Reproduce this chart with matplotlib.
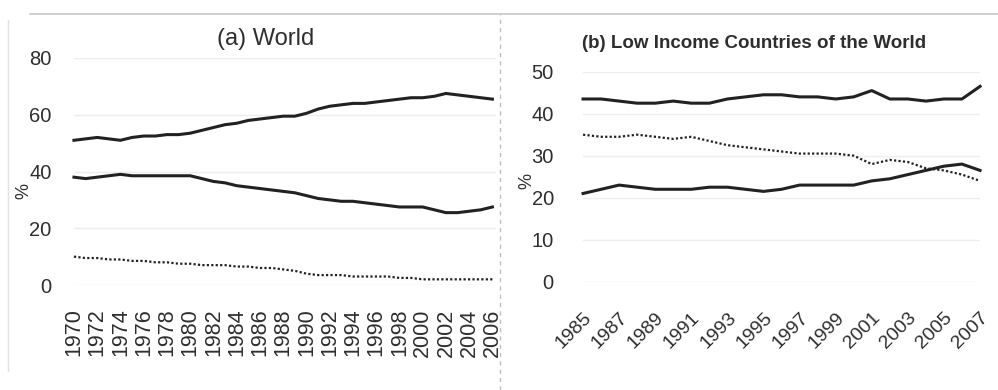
import matplotlib
matplotlib.use("Agg")
import matplotlib.pyplot as plt
from matplotlib.lines import Line2D

# (a) World, 1970-2006
years_a = list(range(1970, 2007))
upper_a = [51, 51.5, 52, 51.5, 51, 52, 52.5, 52.5, 53, 53, 53.5,
           54.5, 55.5, 56.5, 57, 58, 58.5, 59, 59.5, 59.5, 60.5,
           62, 63, 63.5, 64, 64, 64.5, 65, 65.5, 66, 66,
           66.5, 67.5, 67, 66.5, 66, 65.5]
middle_a = [38, 37.5, 38, 38.5, 39, 38.5, 38.5, 38.5, 38.5, 38.5, 38.5,
            37.5, 36.5, 36, 35, 34.5, 34, 33.5, 33, 32.5, 31.5,
            30.5, 30, 29.5, 29.5, 29, 28.5, 28, 27.5, 27.5, 27.5,
            26.5, 25.5, 25.5, 26, 26.5, 27.5]
dotted_a = [10, 9.5, 9.5, 9, 9, 8.5, 8.5, 8, 8, 7.5, 7.5,
            7, 7, 7, 6.5, 6.5, 6, 6, 5.5, 5, 4,
            3.5, 3.5, 3.5, 3, 3, 3, 3, 2.5, 2.5, 2,
            2, 2, 2, 2, 2, 2]
xticks_a = list(range(1970, 2007, 2))
yticks_a = [0, 20, 40, 60, 80]

# (b) Low income countries, 1985-2007
years_b = list(range(1985, 2008))
upper_b = [43.5, 43.5, 43, 42.5, 42.5, 43, 42.5, 42.5, 43.5, 44, 44.5, 44.5,
           44, 44, 43.5, 44, 45.5, 43.5, 43.5, 43, 43.5, 43.5, 46.5]
dotted_b = [35, 34.5, 34.5, 35, 34.5, 34, 34.5, 33.5, 32.5, 32, 31.5, 31,
            30.5, 30.5, 30.5, 30, 28, 29, 28.5, 27, 26.5, 25.5, 24]
lower_b = [21, 22, 23, 22.5, 22, 22, 22, 22.5, 22.5, 22, 21.5, 22,
           23, 23, 23, 23, 24, 24.5, 25.5, 26.5, 27.5, 28, 26.5]
xticks_b = list(range(1985, 2008, 2))
yticks_b = [0, 10, 20, 30, 40, 50]

ink = "#222222"
txt = "#2e2e2e"
plt.rcParams["font.family"] = ["Liberation Sans", "DejaVu Sans"]

fig = plt.figure(figsize=(9.98, 3.90), dpi=100)

# faint scan frame
fig.add_artist(Line2D([0.03, 1.0], [0.963, 0.963], color="#c8c8c8", lw=1.2))
fig.add_artist(Line2D([0.501, 0.501], [0.0, 0.963], color="#c0c0c0", lw=1, ls=(0, (3, 3))))
fig.add_artist(Line2D([0.008, 0.008], [0.05, 0.95], color="#e2e2e2", lw=1))


def style(ax):
    for s in ax.spines.values():
        s.set_visible(False)
    ax.tick_params(length=0, colors=txt)
    ax.grid(axis="y", color="#eeeeee", lw=1)
    ax.set_axisbelow(True)


ax1 = fig.add_axes([0.0741, 0.2692, 0.4228, 0.5821])
ax1.plot(years_a, upper_a, color=ink, lw=2.2, clip_on=False)
ax1.plot(years_a, middle_a, color=ink, lw=2.2, clip_on=False)
ax1.plot(years_a, dotted_a, color=ink, lw=1.6, ls=(0, (1, 1)), clip_on=False)
ax1.set_xlim(1970, 2006.3)
ax1.set_ylim(0, 80)
ax1.set_xticks(xticks_a)
ax1.set_xticklabels([str(y) for y in xticks_a], rotation=90, fontsize=15.5, va="top")
ax1.set_yticks(yticks_a)
ax1.set_yticklabels([str(v) for v in yticks_a], fontsize=14.5)
ax1.tick_params(axis="x", pad=17)
ax1.tick_params(axis="y", pad=16)
style(ax1)
fig.text(0.024, 0.51, "%", rotation=90, fontsize=13, color=txt, ha="center", va="center")
fig.text(0.266, 0.90, "(a) World", fontsize=17, color=txt, ha="center", va="center")

ax2 = fig.add_axes([0.5842, 0.2777, 0.3978, 0.5385])
ax2.plot(years_b, upper_b, color=ink, lw=2.2, clip_on=False)
ax2.plot(years_b, dotted_b, color=ink, lw=1.6, ls=(0, (1, 1)), clip_on=False)
ax2.plot(years_b, lower_b, color=ink, lw=2.2, clip_on=False)
ax2.set_xlim(1985, 2007)
ax2.set_ylim(0, 50)
ax2.set_xticks(xticks_b)
ax2.set_xticklabels([str(y) for y in xticks_b], rotation=45, fontsize=14,
                    ha="right", rotation_mode="anchor")
ax2.set_yticks(yticks_b)
ax2.set_yticklabels([str(v) for v in yticks_b], fontsize=14.5)
ax2.tick_params(axis="x", pad=20)
ax2.tick_params(axis="y", pad=21)
style(ax2)
fig.text(0.528, 0.535, "%", rotation=90, fontsize=13, color=txt, ha="center", va="center")
fig.text(0.756, 0.888, "(b) Low Income Countries of the World", fontsize=13.5,
         fontweight="bold", color=txt, ha="center", va="center")

fig.savefig("out.png", dpi=100)
